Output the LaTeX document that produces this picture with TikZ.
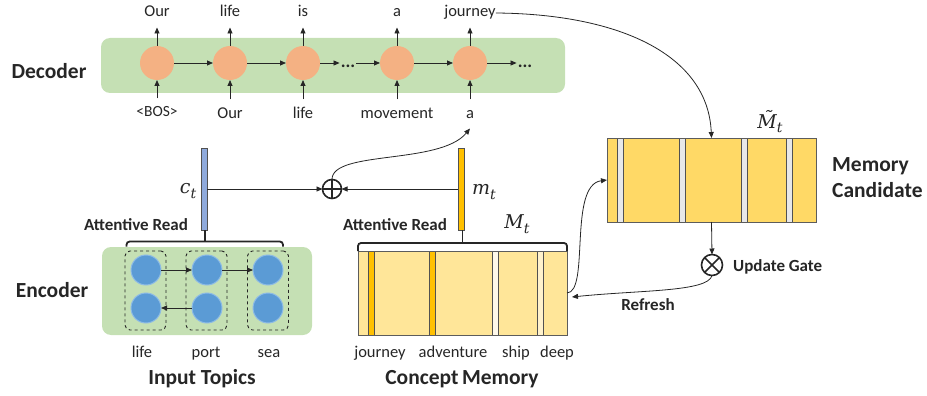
\documentclass[tikz,border=0pt]{standalone}
\usepackage{fontspec}
\setmainfont{Carlito}
\newfontfamily\mvfont{DejaVu Serif}
\usetikzlibrary{arrows.meta,calc}
\definecolor{grn}{HTML}{C5E0B4}
\definecolor{decor}{HTML}{F4B183}
\definecolor{encb}{HTML}{5B9BD5}
\definecolor{encbd}{HTML}{8DBBE6}
\definecolor{ctblue}{HTML}{8FAADC}
\definecolor{gold}{HTML}{FFC000}
\definecolor{candy}{HTML}{FFD966}
\definecolor{cmem}{HTML}{FFE699}
\definecolor{pale}{HTML}{FFF2CC}
\definecolor{paler}{HTML}{FFF9EA}
\definecolor{gbar}{HTML}{E8E8E8}
\definecolor{ink}{HTML}{262626}
\newcommand{\mvar}[2]{{\mvfont\itshape #1\raisebox{-0.45ex}{\fontsize{14}{14}\selectfont #2}}}
\tikzset{
  arr/.style={draw=ink, line width=0.8pt, -{Triangle[length=6pt,width=5pt]}},
  lbl/.style={font=\fontsize{16.5}{18}\selectfont, text=ink, inner sep=0pt, text height=11.5pt, text depth=3.5pt, outer ysep=7pt},
  bos/.style={font=\fontsize{15.5}{16}\selectfont, text=ink, inner sep=0pt, text height=11.5pt, text depth=3.5pt, outer ysep=7pt},
  big/.style={font=\bfseries\fontsize{21.5}{26}\selectfont, text=ink, inner sep=0pt},
  mid/.style={font=\bfseries\fontsize{17}{20}\selectfont, text=ink, inner sep=0pt},
  mathl/.style={font=\fontsize{19}{22}\selectfont, text=ink, inner sep=0pt},
  greenbox/.style={fill=grn, rounded corners=9pt, draw=none},
  decnode/.style={circle, fill=decor, minimum size=34pt, inner sep=0pt, outer sep=0pt},
  encnode/.style={circle, fill=encb, draw=encbd, line width=1pt, minimum size=30pt, inner sep=0pt, outer sep=0pt},
  dbox/.style={draw=ink, dashed, line width=0.9pt, rounded corners=5pt, minimum width=41pt, minimum height=79pt, inner sep=0pt},
  vbar/.style={draw=ink!80, line width=0.9pt, minimum width=6pt, inner sep=0pt, outer sep=0pt},
  memrect/.style={draw=ink!75, line width=0.9pt, minimum width=209pt, minimum height=84pt, inner sep=0pt, outer sep=0pt},
  opnode/.style={circle, draw=ink, line width=1.6pt, inner sep=0pt, outer sep=0pt},
  brk/.style={draw=ink, line width=1.8pt, rounded corners=3pt},
  dots/.style={font=\bfseries\fontsize{18}{18}\selectfont, text=ink, inner sep=1pt, text height=2.5pt, text depth=0pt},
}
\begin{document}
\begin{tikzpicture}[x=1pt,y=-1pt]
\useasboundingbox (0,0) rectangle (927,396);

% ---------- Decoder ----------
\node[greenbox, minimum width=464pt, minimum height=55pt] (decbg) at (333,65.5) {};
\node[big, anchor=base] (declbl) at (49,78) {Decoder};
\foreach \i/\x in {1/157,2/230,3/303,4/397,5/470}{
  \node[decnode] (d\i) at (\x,63) {};
}
\node[lbl, anchor=base] (o1) at (157,17) {Our};
\node[lbl, anchor=base] (o2) at (230,17) {life};
\node[lbl, anchor=base] (o3) at (303,17) {is};
\node[lbl, anchor=base] (o4) at (397,17) {a};
\node[lbl, anchor=base] (o5) at (470,17) {journey};
\node[bos, anchor=base] (i1) at (157,117) {<BOS>};
\node[lbl, anchor=base] (i2) at (230,118) {Our};
\node[lbl, anchor=base] (i3) at (303,118) {life};
\node[lbl, anchor=base] (i4) at (397,118) {movement};
\node[lbl, anchor=base] (i5) at (470,118) {a};
\foreach \i in {1,...,5}{
  \draw[arr] (d\i.north) -- (o\i.south);
  \draw[arr] (i\i.north) -- (d\i.south);
}
\node[dots, anchor=base] (e1) at (348,67) {...};
\node[dots, anchor=base] (e2) at (525,67) {...};
\draw[arr] (d1.east) -- (d2.west);
\draw[arr] (d2.east) -- (d3.west);
\draw[arr] (d3.east) -- (d3.east -| e1.west);
\draw[arr] (d4.west -| e1.east) -- (d4.west);
\draw[arr] (d4.east) -- (d5.west);
\draw[arr] (d5.east) -- (d5.east -| e2.west);

% ---------- Memory candidate ----------
\node[memrect, fill=candy] (mc) at (711.5,180) {};
\foreach \x in {620,682,744,789}{
  \node[vbar, fill=gbar, minimum height=84pt] at (\x,180) {};
}
\draw[ink!75, line width=0.9pt] (mc.north west) rectangle (mc.south east);
\node[mathl] (mtil) at (770,122) {\mvar{M^^^^0303}{t}};
\node[big, align=left, anchor=west] (mclbl) at (832,178) {Memory\\Candidate};
\draw[arr] (o5.east) .. controls (620,14) and (708,55) .. (mc.north);

\node[opnode, minimum size=21pt] (ug) at (712,265) {};
\draw[ink, line width=1.6pt] (ug.north west) -- (ug.south east) (ug.north east) -- (ug.south west);
\draw[arr] (mc.south) -- (ug.north);
\node[mid, anchor=base west] (uglbl) at (733,271) {Update Gate};

% ---------- Concept memory ----------
\node[memrect, fill=cmem] (cm) at (462.5,293) {};
\node[vbar, fill=gold, minimum height=84pt] (cb1) at (371,293) {};
\node[vbar, fill=gold, minimum height=84pt] (cb2) at (432.5,293) {};
\node[vbar, fill=paler, minimum height=84pt] (cb3) at (495,293) {};
\node[vbar, fill=pale, minimum height=84pt] (cb4) at (540,293) {};
\draw[ink!75, line width=0.9pt] (cm.north west) rectangle (cm.south east);
\node[lbl, anchor=base] (cw1) at (380,357) {journey};
\node[lbl, anchor=base] (cw2) at (453,357) {adventure};
\node[lbl, anchor=base] (cw3) at (516,357) {ship};
\node[lbl, anchor=base] (cw4) at (557,357) {deep};
\node[big, anchor=base] (cmlbl) at (462,384) {Concept\,Memory};

\node[vbar, fill=gold, minimum height=82pt] (mb) at (461,189) {};
\node[mathl] (mtl) at (484,192) {\mvar{m}{t}};
\node[mathl] (Mtl) at (517,224) {\mvar{M}{t}};
\node[mid, anchor=base] (ar2) at (395,230) {Attentive Read};
\coordinate (cmbr) at ($(cm.north)+(0,-8)$);
\draw[brk] (cm.north west) |- (cmbr) -| (cm.north east);
\draw[ink, line width=1.8pt] (cmbr) -- (cmbr |- mb.south);

\coordinate (rfend) at ($(cm.east)+(5,4)$);
\draw[arr] (ug.south) .. controls (708,292) and (640,290) .. (rfend);
\node[mid, anchor=base] (rflbl) at (648,310) {Refresh};
\draw[arr] (cm.east) .. controls (590,292) and (568,185) .. (mc.west);

% ---------- Encoder ----------
\node[greenbox, minimum width=210pt, minimum height=88pt] (encbg) at (207,291) {};
\node[big, anchor=base] (enclbl) at (52,297) {Encoder};
\node[dbox] (b1) at (145.5,290.5) {};
\node[dbox] (b2) at (206.5,290.5) {};
\node[dbox] (b3) at (268,290.5) {};
\foreach \i/\x in {1/146,2/207,3/268}{
  \node[encnode] (t\i) at (\x,270) {};
  \node[encnode] (u\i) at (\x,308) {};
}
\draw[arr] (t1.east) -- (t2.west);
\draw[arr] (t2.east) -- (t3.west);
\draw[arr] (u2.west) -- (u1.east);
\node[lbl, anchor=base] (w1) at (142,357) {life};
\node[lbl, anchor=base] (w2) at (206,357) {port};
\node[lbl, anchor=base] (w3) at (269,357) {sea};
\node[big, anchor=base] (itlbl) at (202,384) {Input Topics};

\node[vbar, fill=ctblue, minimum height=82pt] (ctb) at (204,189) {};
\node[mathl] (ctl) at (188,191) {\mvar{c}{t}};
\node[mid, anchor=base] (ar1) at (136,230) {Attentive Read};
\coordinate (ebl) at ($(b1.north west)+(2,-4)$);
\coordinate (ebr) at ($(b3.north east)+(-6,-4)$);
\coordinate (ebm) at ($(ebl)!0.5!(ebr)+(0,-5)$);
\draw[brk] (ebl) |- (ebm) -| (ebr);
\draw[ink, line width=1.8pt] (ebm) -- (ebm |- ctb.south);

% ---------- Fusion ----------
\node[opnode, minimum size=19pt] (op) at (332,189) {};
\draw[ink, line width=1.6pt] (op.north) -- (op.south) (op.west) -- (op.east);
\draw[arr] (ctb.east) -- (op.west);
\draw[arr] (mb.west) -- (op.east);
\draw[arr] (op.north) .. controls (332,150) and (440,165) .. (i5.south);
\end{tikzpicture}
\end{document}
